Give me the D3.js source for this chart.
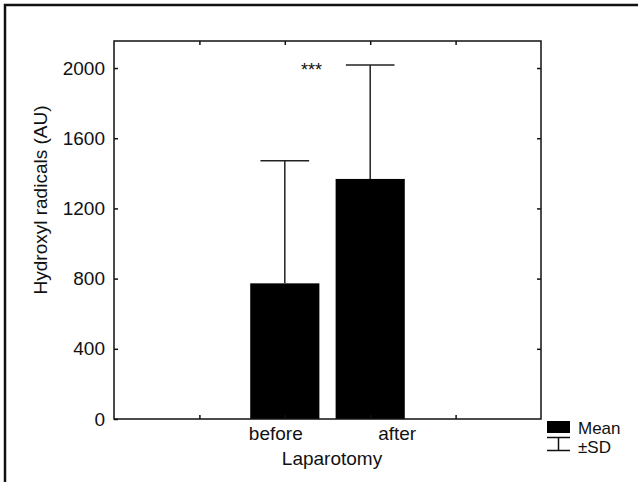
<!DOCTYPE html>
<html>
<head>
<meta charset="utf-8">
<script src="https://cdn.jsdelivr.net/npm/d3@7"></script>
<style>
  body { margin: 0; background: #fff; }
  text { font-family: "Liberation Sans", Arial, sans-serif; fill: #111; }
</style>
</head>
<body>
<div class="chart"></div>
<script>
// data
let categories = ["before", "after"];
let slotIndex = [2, 3];
let means = [773, 1368];
let sds = [699, 649];
let yTicks = [0, 400, 800, 1200, 1600, 2000];
let gridSlots = [1, 2, 3, 4];

let svgWidth = 638;
let svgHeight = 482;
let plot = { left: 114, right: 541, top: 41, bottom: 419 };
let fontSize = "19px";

let svg = d3.select(".chart")
    .append("svg")
    .attr("width", svgWidth)
    .attr("height", svgHeight);

// outer frame (only top and left edges show)
svg.append("path")
    .attr("d", `M5,${svgHeight} V5 H${svgWidth}`)
    .attr("fill", "none")
    .attr("stroke", "#111")
    .attr("stroke-width", 2.5);

let x = d3.scaleLinear().domain([0, 5]).range([plot.left, plot.right]);
let y = d3.scaleLinear().domain([0, 2154]).range([plot.bottom, plot.top]);

let barW = 0.81;

// bars
svg.selectAll("rect.bar")
    .data(categories)
    .enter()
    .append("rect")
    .attr("class", "bar")
    .attr("x", (d, i) => x(slotIndex[i] - barW / 2))
    .attr("width", x(barW) - x(0))
    .attr("y", (d, i) => y(means[i]))
    .attr("height", (d, i) => y(0) - y(means[i]))
    .attr("fill", "#000");

// error bars (upper only)
let capW = 0.57;
let err = svg.selectAll("g.err")
    .data(categories)
    .enter()
    .append("g")
    .attr("stroke", "#222")
    .attr("stroke-width", 1.5);
err.append("line")
    .attr("x1", (d, i) => x(slotIndex[i]))
    .attr("x2", (d, i) => x(slotIndex[i]))
    .attr("y1", (d, i) => y(means[i]))
    .attr("y2", (d, i) => y(means[i] + sds[i]));
err.append("line")
    .attr("x1", (d, i) => x(slotIndex[i] - capW / 2))
    .attr("x2", (d, i) => x(slotIndex[i] + capW / 2))
    .attr("y1", (d, i) => y(means[i] + sds[i]))
    .attr("y2", (d, i) => y(means[i] + sds[i]));

// axes with inward ticks
let leftAxis = d3.axisLeft(y).tickValues(yTicks).tickSizeInner(-4).tickSizeOuter(0)
    .tickPadding(9).tickFormat(d3.format("d"));
let gl = svg.append("g").attr("transform", `translate(${plot.left},0)`).call(leftAxis);
let rightAxis = d3.axisRight(y).tickValues(yTicks.slice(1)).tickSizeInner(-4).tickSizeOuter(0).tickFormat("");
let gr = svg.append("g").attr("transform", `translate(${plot.right},0)`).call(rightAxis);
let topAxis = d3.axisTop(x).tickValues(gridSlots).tickSizeInner(-4).tickSizeOuter(0).tickFormat("");
let gt = svg.append("g").attr("transform", `translate(0,${plot.top})`).call(topAxis);
let bottomAxis = d3.axisBottom(x).tickValues(gridSlots).tickSizeInner(-4).tickSizeOuter(0).tickFormat("");
let gb = svg.append("g").attr("transform", `translate(0,${plot.bottom})`).call(bottomAxis);

[gl, gr, gt, gb].forEach(g => {
    g.select(".domain").remove();
    g.selectAll("line").attr("stroke", "#111").attr("stroke-width", 1.5);
});
gl.selectAll("text")
    .style("font-size", fontSize)
    .attr("font-family", null);

svg.append("rect")
    .attr("x", plot.left)
    .attr("y", plot.top)
    .attr("width", plot.right - plot.left)
    .attr("height", plot.bottom - plot.top)
    .attr("fill", "none")
    .attr("stroke", "#111")
    .attr("stroke-width", 1.5);

// category labels (Statistica offsets them a bit)
let labelDx = [-9, 27];
svg.selectAll("text.cat")
    .data(categories)
    .enter()
    .append("text")
    .attr("class", "cat")
    .attr("x", (d, i) => x(slotIndex[i]) + labelDx[i])
    .attr("y", 440)
    .attr("text-anchor", "middle")
    .style("font-size", fontSize)
    .text(d => d);

svg.append("text")
    .attr("x", 332)
    .attr("y", 465)
    .attr("text-anchor", "middle")
    .style("font-size", fontSize)
    .text("Laparotomy");

svg.append("text")
    .attr("transform", "translate(47,200) rotate(-90)")
    .attr("text-anchor", "middle")
    .style("font-size", fontSize)
    .text("Hydroxyl radicals (AU)");

svg.append("text")
    .attr("x", 311.5)
    .attr("y", 76)
    .attr("text-anchor", "middle")
    .style("font-size", "18px")
    .text("***");

// legend
let lg = svg.append("g");
lg.append("rect").attr("x", 547).attr("y", 421).attr("width", 23).attr("height", 12).attr("fill", "#000");
lg.append("path")
    .attr("d", "M547,437.5 H570 M558.5,437.5 V450.5 M547,450.5 H570")
    .attr("fill", "none")
    .attr("stroke", "#111")
    .attr("stroke-width", 1.5);
lg.append("text").attr("x", 578).attr("y", 434).style("font-size", "17px").text("Mean");
lg.append("text").attr("x", 578).attr("y", 453).style("font-size", "17px").text("±SD");
</script>
</body>
</html>
